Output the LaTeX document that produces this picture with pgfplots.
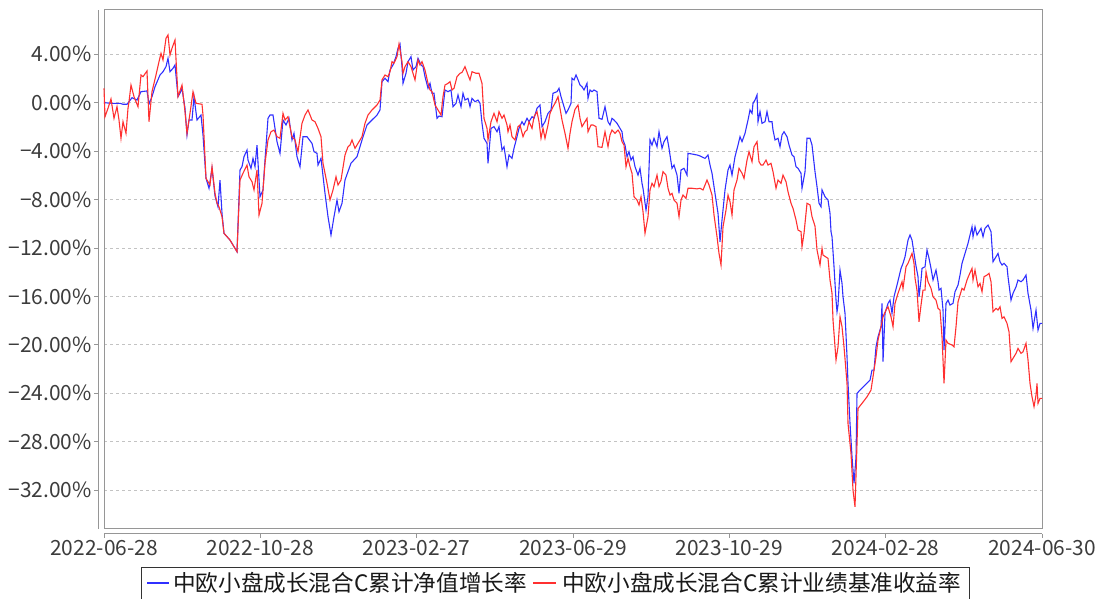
\documentclass[border=0pt]{standalone}
\usepackage{pgfplots}
\pgfplotsset{compat=1.18}
\usepackage{fontspec}
\setmainfont{Noto Sans CJK SC}
\definecolor{navblue}{RGB}{48,48,255}
\definecolor{bmred}{RGB}{255,48,48}
\definecolor{framegray}{RGB}{150,150,150}
\definecolor{gridgray}{RGB}{195,195,195}
\definecolor{labelgray}{RGB}{60,60,60}

\pgfplotstableread{
x y
0 0
8 -0.05
16 -0.05
19 -0.13
23 -0.13
28 0.41
33 0.22
37 0.91
43 0.97
45 -0.11
48 0.50
51 1.32
56 2.29
59 2.56
62 2.98
64 3.67
66 2.56
69 2.84
71 3.12
74 0.50
76 0.78
78 1.19
81 -0.46
83 -2.67
85 -1.43
88 -1.43
90 0.50
93 -1.43
97 -1.02
99 -2.67
102 -6.25
105 -7.07
108 -5.42
111 -7.70
114 -8.60
116 -6.39
118 -9.14
120 -10.79
126 -11.35
133 -12.31
136 -5.56
138 -5.29
140 -4.46
143 -3.91
144 -4.74
147 -5.42
149 -4.60
151 -5.29
153 -3.50
156 -7.77
159 -7.21
161 -4.74
164 -1.29
166 -1.02
169 -1.02
173 -3.22
176 -4.18
179 -1.43
182 -1.84
185 -1.29
188 -3.08
190 -2.53
193 -4.46
196 -5.29
199 -2.81
203 -2.81
208 -3.36
210 -4.05
213 -4.18
214 -5.15
217 -4.60
221 -7.49
224 -9.42
227 -10.93
230 -9.42
233 -8.04
235 -9.01
238 -8.31
241 -6.39
247 -5.00
253 -4.46
258 -3.08
263 -1.84
268 -1.43
273 -1.02
276 -0.60
278 1.74
281 2.02
284 1.74
286 2.70
289 3.12
292 3.80
294 4.50
296 4.85
298 2.98
299 1.60
302 2.43
304 3.39
307 3.80
309 2.70
312 2.98
314 3.67
317 3.12
319 2.98
321 2.15
324 1.19
326 1.60
328 0.78
330 0.78
333 -1.29
335 -1.10
338 -1.16
341 1.05
344 0.91
347 1.05
349 -0.33
352 -0.05
354 0.64
357 -0.33
359 0.78
361 0.22
364 0.36
366 -0.33
368 0.36
371 0.08
374 0.22
376 -0.05
378 -1.70
380 -2.94
383 -3.36
384 -5.01
387 -2.12
390 -1.98
393 -2.40
395 -1.98
398 -3.91
400 -3.64
403 -5.29
405 -4.32
408 -4.60
410 -3.77
413 -2.81
415 -2.12
418 -1.57
420 -1.84
423 -1.29
425 -1.57
428 -1.16
430 -1.29
433 -0.46
436 -0.19
438 -1.98
441 -1.57
444 -0.88
447 -0.60
449 0.78
453 0.91
455 1.19
457 0.50
459 -0.05
462 -0.88
464 -0.60
467 -0.05
468 2.02
470 1.88
472 2.29
474 1.90
476 1.46
478 1.32
480 1.05
483 1.60
484 0.36
486 1.05
488 0.91
490 1.05
493 0.91
495 -1.29
498 -1.37
501 -0.33
504 -1.57
506 -1.84
508 -1.29
510 -1.43
513 -1.70
515 -1.98
518 -2.40
519 -3.08
521 -3.50
523 -4.46
525 -4.05
527 -4.74
529 -4.46
531 -5.29
534 -5.98
536 -5.42
538 -6.66
539 -7.07
542 -8.87
544 -7.77
546 -3.08
548 -3.50
550 -2.94
553 -3.64
555 -2.40
558 -3.77
560 -3.22
563 -2.81
565 -3.77
568 -5.42
570 -5.15
573 -5.98
575 -7.49
577 -5.56
580 -5.42
583 -5.98
584 -4.18
588 -4.24
593 -4.32
596 -4.40
601 -4.60
604 -4.32
606 -5.15
608 -5.83
611 -7.49
614 -9.14
616 -11.49
618 -9.69
621 -7.21
624 -5.56
626 -5.15
628 -5.98
631 -4.46
634 -3.50
636 -2.81
638 -3.22
641 -2.53
644 -1.43
646 -0.60
648 -0.88
649 -0.05
651 0.22
653 0.64
654 -1.57
656 -0.74
658 -1.70
661 -1.57
663 -0.74
665 -1.57
668 -1.57
669 -2.26
671 -3.08
674 -2.94
676 -3.64
678 -2.67
680 -2.40
683 -2.81
685 -3.50
688 -4.32
690 -4.46
692 -5.29
694 -5.42
697 -5.83
698 -7.07
701 -5.70
703 -2.94
706 -2.94
708 -3.50
711 -5.70
713 -6.94
715 -8.31
717 -8.60
718 -7.20
721 -7.77
724 -8.04
726 -9.14
727 -10.66
728 -11.07
730 -13.55
732 -16.31
733 -17.27
734 -16.72
736 -13.83
738 -14.93
739 -16.03
741 -17.40
743 -20.99
744 -23.19
746 -26.50
748 -29.26
750 -31.45
752 -29.26
753 -24.02
756 -23.74
761 -23.33
766 -22.92
768 -22.09
770 -22.09
772 -20.17
774 -19.34
777 -18.51
778 -16.58
779 -21.40
781 -17.40
784 -16.58
786 -16.31
788 -17.40
790 -16.03
793 -15.07
795 -14.38
797 -13.69
799 -13.27
801 -12.73
804 -11.35
806 -10.93
808 -11.35
810 -12.45
812 -13.50
814 -14.38
815 -16.03
817 -14.65
818 -13.69
821 -13.55
823 -12.17
825 -12.86
827 -13.69
829 -14.65
832 -13.83
834 -14.79
835 -15.48
837 -15.34
839 -17.13
840 -20.44
842 -16.58
844 -16.31
846 -16.72
849 -16.58
851 -15.62
854 -15.07
856 -14.24
858 -13.27
861 -12.45
864 -11.62
866 -10.93
868 -10.25
869 -11.07
871 -10.25
873 -10.93
875 -10.66
877 -10.38
879 -11.07
881 -10.38
884 -10.11
887 -10.66
889 -13.14
892 -12.73
894 -12.45
896 -13.14
898 -13.41
900 -13.27
903 -13.55
904 -14.38
907 -16.31
909 -15.75
912 -15.21
914 -14.65
917 -14.79
919 -14.65
922 -14.24
924 -15.75
927 -17.13
929 -18.64
932 -17.13
934 -18.79
936 -18.23
938 -18.23
}\navtable

\pgfplotstableread{
x y
0 1.19
1 -1.16
4 -0.46
7 0.31
10 -1.29
13 -0.33
15 -1.43
17 -2.94
19 -1.57
22 -2.53
24 -0.46
25 0.08
27 1.46
30 0.50
34 -0.33
37 2.29
39 2.15
43 2.62
45 -1.57
48 0.91
52 2.29
55 3.39
57 4.08
59 3.53
62 5.32
64 5.60
66 3.94
68 4.50
71 5.18
74 0.50
78 1.46
81 -0.74
83 -2.53
86 -0.88
89 0.91
92 -0.05
98 -0.13
99 -1.02
102 -6.25
106 -6.80
108 -5.29
111 -7.49
113 -8.30
115 -8.60
118 -9.42
120 -10.79
126 -11.35
133 -12.31
136 -6.39
139 -5.83
143 -5.15
145 -6.12
148 -6.53
150 -7.21
153 -5.56
155 -9.28
158 -8.31
161 -5.01
164 -3.08
167 -2.40
170 -2.26
173 -2.81
176 -2.94
179 -0.88
181 -1.43
184 -1.16
188 -2.81
191 -3.08
194 -4.05
198 -1.70
201 -1.02
204 -0.60
208 -1.43
211 -1.57
214 -2.12
217 -2.81
219 -5.01
223 -6.66
226 -8.04
229 -7.21
232 -6.12
234 -6.80
237 -6.39
241 -4.32
244 -3.64
246 -3.50
248 -3.08
251 -3.77
254 -3.36
258 -2.81
261 -1.70
264 -1.02
268 -0.60
273 -0.19
276 0.22
278 1.88
281 2.29
284 2.15
286 2.56
288 3.39
290 3.26
293 3.80
295 4.85
298 3.39
299 2.43
301 2.98
304 3.39
307 2.98
309 2.43
311 1.88
314 3.53
316 3.12
318 3.39
321 2.70
324 1.60
326 1.05
328 0.91
331 -0.19
333 -0.46
334 -0.60
337 -1.02
339 0.50
341 1.46
344 1.60
346 1.74
348 1.05
350 1.19
353 2.15
356 2.43
358 2.50
361 2.98
364 2.29
366 1.88
368 2.56
372 2.43
375 2.43
378 1.60
380 -1.29
383 -2.12
384 -3.08
387 -1.57
390 -0.88
393 -1.57
395 -0.74
398 -1.29
400 -1.02
403 -1.84
404 -2.40
406 -1.84
408 -2.81
411 -3.08
414 -1.98
416 -1.84
419 -2.81
421 -2.40
423 -2.26
425 -1.57
428 -2.12
430 -1.16
433 -0.74
435 -1.57
437 -2.94
439 -2.12
441 -2.94
444 -1.84
446 -0.88
449 -0.33
451 -0.05
454 0.50
456 -0.46
458 -1.43
461 -2.53
464 -3.77
466 -2.53
468 -1.57
471 -0.55
474 -0.19
476 -1.29
478 -1.98
481 -1.57
483 -1.29
484 -2.40
487 -1.84
489 -1.84
492 -1.98
494 -3.64
498 -3.69
501 -2.40
504 -3.64
506 -2.67
508 -2.26
511 -2.53
514 -2.26
516 -2.53
518 -3.22
520 -3.50
522 -5.29
524 -4.60
526 -5.29
528 -5.83
530 -7.77
533 -8.04
535 -8.45
537 -7.77
539 -9.01
541 -10.79
544 -9.42
546 -7.21
548 -6.66
550 -6.94
553 -5.98
555 -6.94
557 -6.53
559 -5.70
562 -5.98
564 -7.07
566 -7.63
568 -7.49
570 -8.04
573 -8.31
575 -9.42
577 -8.04
579 -7.63
582 -7.90
584 -7.07
588 -7.07
593 -7.12
596 -7.07
599 -7.21
603 -6.39
605 -6.80
608 -7.63
610 -9.28
613 -11.07
615 -12.45
617 -13.41
619 -10.25
622 -8.87
624 -7.63
626 -8.18
628 -9.28
630 -7.21
633 -6.39
635 -5.42
638 -5.83
640 -6.25
643 -4.74
645 -4.05
648 -4.88
650 -3.64
653 -3.22
655 -4.88
657 -5.15
659 -5.15
662 -4.74
664 -5.15
667 -5.01
669 -5.70
672 -7.07
674 -6.39
677 -6.66
679 -5.98
682 -6.53
684 -7.36
687 -8.31
689 -8.73
692 -9.69
694 -10.52
697 -10.66
698 -11.90
700 -10.79
703 -8.31
706 -8.45
708 -9.42
711 -10.20
713 -12.17
716 -13.41
718 -12.03
719 -12.59
724 -12.86
726 -14.65
728 -15.75
729 -17.96
732 -21.26
734 -20.17
736 -17.69
738 -18.51
740 -20.17
743 -23.19
744 -26.50
747 -28.98
749 -32.01
751 -33.39
753 -28.15
754 -25.26
758 -24.84
763 -24.30
767 -23.74
769 -22.64
772 -20.99
774 -19.61
777 -18.51
779 -17.69
782 -17.13
784 -16.86
787 -17.69
789 -18.51
791 -16.58
794 -15.75
798 -14.79
799 -15.34
802 -13.55
804 -13.27
808 -12.45
810 -13.27
811 -14.50
813 -15.50
815 -18.10
817 -16.72
819 -15.48
821 -15.48
822 -13.97
824 -14.79
827 -15.34
829 -16.03
832 -16.31
834 -16.99
836 -17.13
838 -19.34
840 -23.19
842 -19.61
844 -19.88
848 -20.02
850 -20.17
852 -18.51
854 -16.45
856 -15.89
858 -15.34
860 -15.48
863 -14.65
865 -14.24
868 -13.69
869 -14.65
871 -13.83
874 -15.21
876 -14.93
878 -15.62
880 -14.38
883 -14.24
885 -14.10
887 -14.79
889 -17.27
892 -16.99
894 -17.13
896 -16.86
898 -17.82
900 -17.69
903 -18.23
905 -18.93
907 -21.40
909 -21.12
912 -20.71
914 -20.30
917 -20.71
919 -20.58
922 -19.88
924 -21.26
926 -23.19
928 -24.30
930 -25.12
932 -24.16
933 -23.19
934 -24.84
936 -24.43
938 -24.43
}\bmtable

\begin{document}
\begin{tikzpicture}[x=1bp,y=1bp]
\begin{axis}[
  at={(104bp,70bp)}, anchor=south west,
  scale only axis, width=938bp, height=519bp,
  xmin=0, xmax=938, ymin=-35.22, ymax=7.66,
  axis lines*=left,
  axis x line shift=5bp, axis y line shift=6bp,
  axis line style={framegray, line width=1bp},
  xtick={0,156.33,312.67,469,625.33,781.67,938},
  xticklabels={2022-06-28,2022-10-28,2023-02-27,2023-06-29,2023-10-29,2024-02-28,2024-06-30},
  ytick={-32,-28,-24,-20,-16,-12,-8,-4,0,4},
  yticklabels={−32.00\%,−28.00\%,−24.00\%,−20.00\%,−16.00\%,−12.00\%,−8.00\%,−4.00\%,0.00\%,4.00\%},
  tick align=outside, major tick length=4bp,
  tick style={framegray, line width=0.8bp},
  ymajorgrids, grid style={gridgray, dash pattern=on 3bp off 3bp, line width=0.8bp},
  tick label style={font=\fontsize{21}{24}\selectfont, text=labelgray},
  yticklabel style={inner sep=2bp},
  xticklabel style={inner sep=2bp},
  clip=false,
]
\draw[framegray, line width=1bp] (rel axis cs:0,0) rectangle (rel axis cs:1,1);
\addplot[navblue, line width=1.1bp] table[x=x,y=y] {\navtable};
\addplot[bmred, line width=1.1bp] table[x=x,y=y] {\bmtable};
\end{axis}
% legend (box, line samples, entries)
\draw[black!80, line width=0.9bp, fill=white] (141,-6) rectangle (969,32);
\draw[navblue, line width=1.3bp] (147,16) -- (169,16);
\node[anchor=west, inner sep=0pt, font=\fontsize{22.7}{26}\selectfont, text=black!90] at (173,16.5) {中欧小盘成长混合C累计净值增长率};
\draw[bmred, line width=1.3bp] (533,16) -- (556,16);
\node[anchor=west, inner sep=0pt, font=\fontsize{22.7}{26}\selectfont, text=black!90] at (562,16.5) {中欧小盘成长混合C累计业绩基准收益率};
\pgfresetboundingbox
\useasboundingbox (0,0) rectangle (1098,599);
\end{tikzpicture}
\end{document}
